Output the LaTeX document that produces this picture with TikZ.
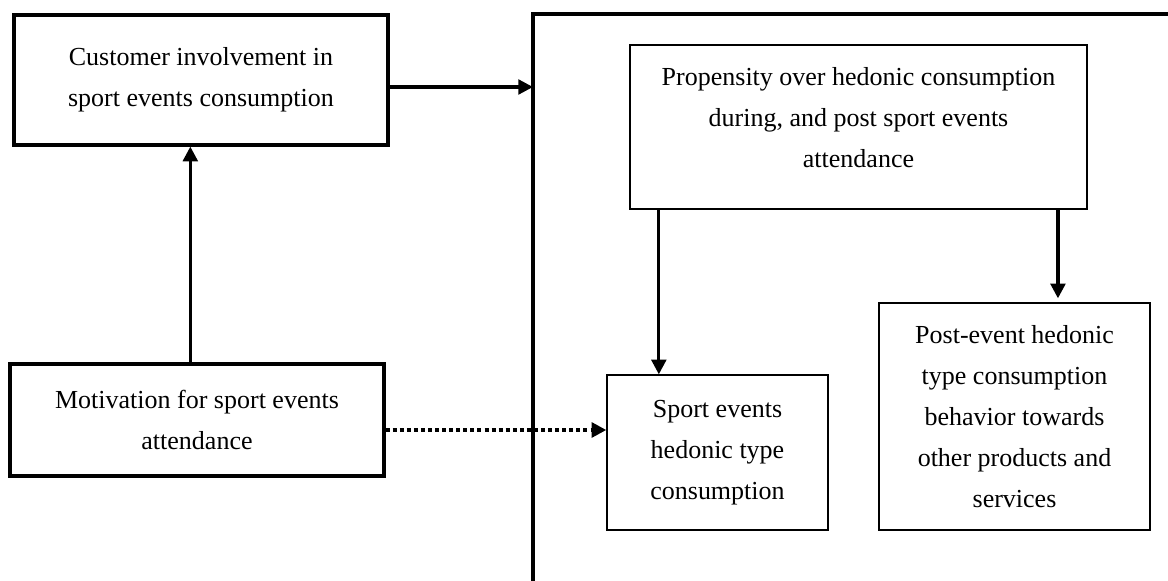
\documentclass[tikz,border=0pt]{standalone}
\usepackage{fontspec}
\setmainfont{Liberation Serif}
\usepackage{tikz}
\usetikzlibrary{arrows.meta, positioning}

\begin{document}
\begin{tikzpicture}[
  x=0.75pt, y=-0.75pt,
  box/.style={rectangle, draw=black, line width=1pt, align=center,
              inner sep=0pt, font=\fontsize{19.5}{30.75}\selectfont},
  thickbox/.style={box, line width=2.4pt},
  arr/.style={-{Triangle[length=11pt, width=11pt]}, line width=2.4pt},
  dotarr/.style={arr, line width=3.2pt, dash pattern=on 3pt off 2.3pt},
  frame/.style={line width=2.4pt},
]
  \useasboundingbox (0,0) rectangle (1168,581);
  \node[thickbox, minimum width=280.5pt, minimum height=97.5pt] (cust) at (201,80)
    {Customer involvement in\\sport events consumption};
  \node[thickbox, minimum width=280.5pt, minimum height=84pt] (motiv) at (197,420)
    {Motivation for sport events\\attendance};
  \node[box, minimum width=342.75pt, minimum height=123pt] (prop) at (858.5,127)
    {Propensity over hedonic consumption\\during, and post sport events\\attendance\\[-17pt]};
  \node[box, minimum width=165.75pt, minimum height=116.25pt] (sport) at (717.5,452.5)
    {Sport events\\hedonic type\\consumption};
  \node[box, minimum width=203.25pt, minimum height=170.25pt] (post) at (1014.5,416.5)
    {Post-event hedonic\\type consumption\\behavior towards\\other products and\\services};
  % open frame round the right part
  \draw[frame] (1168,14) -| (533,581);
  \coordinate (frameW) at (533,87);
  \draw[arr] (cust.east |- frameW) -- (frameW);
  \draw[arr] ([xshift=-8pt]cust.south |- motiv.north) -- ([xshift=-8pt]cust.south);
  \draw[dotarr] ([yshift=-7.5pt]motiv.east) -- ([yshift=-7.5pt]motiv.east -| sport.west);
  \draw[arr] ([xshift=-44pt]sport.north |- prop.south) -- ([xshift=-44pt]sport.north);
  \draw[arr, shorten >=3pt] ([xshift=32.6pt]post.north |- prop.south) -- ([xshift=32.6pt]post.north);
\end{tikzpicture}
\end{document}
